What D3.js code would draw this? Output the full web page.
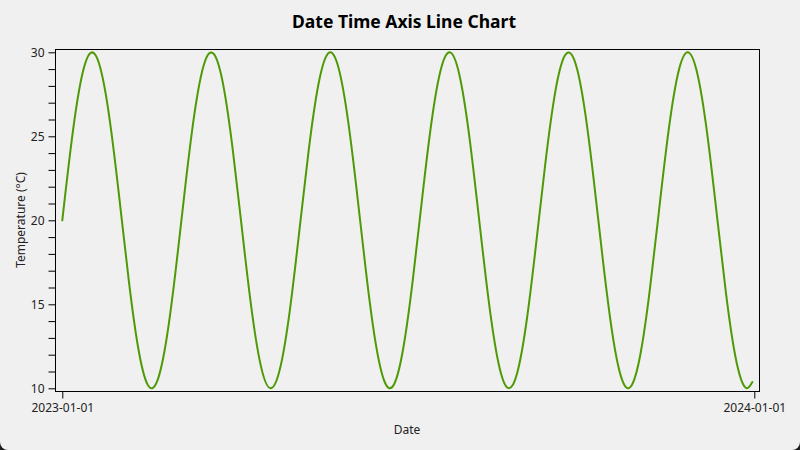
<!DOCTYPE html>
<html>
<head>
<meta charset="utf-8">
<script src="https://cdn.jsdelivr.net/npm/d3@7"></script>
<style>
  html, body { margin: 0; padding: 0; background: #1c1c1c; }
  #wrap { width: 800px; height: 450px; background: #f0f0f0; border-radius: 0 0 8px 8px; overflow: hidden; }
  svg { display: block; font-family: "Noto Sans", "Open Sans", sans-serif; }
</style>
</head>
<body>
<div id="wrap"><svg id="chart" width="800" height="450"></svg></div>
<script>
// Day offsets from 2023-01-01 at which values were read
const dayOffsets = [0,5,10,15,20,25,30,35,40,45,50,55,60,65,70,75,80,85,90,95,
  100,105,110,115,120,125,130,135,140,145,150,155,160,165,170,175,180,185,190,195,
  200,205,210,215,220,225,230,235,240,245,250,255,260,265,270,275,280,285,290,295,
  300,305,310,315,320,325,330,335,340,345,350,355,360,364];
// Temperature (°C)
const temperatures = [20.00,24.79,28.41,29.97,29.09,25.98,21.41,16.49,12.43,10.22,
  10.41,12.95,17.21,22.15,26.57,29.38,29.89,27.99,24.12,19.25,
  14.56,11.20,10.00,11.25,14.63,19.34,24.20,28.04,29.91,29.35,
  26.50,22.07,17.12,12.88,10.39,10.24,12.49,16.58,21.50,26.06,
  29.13,29.97,28.37,24.72,19.91,15.13,11.54,10.02,10.94,14.08,
  18.68,23.59,27.63,29.79,29.56,26.99,22.71,17.76,13.36,10.59,
  10.12,12.07,15.96,20.84,25.51,28.84,30.00,28.71,25.29,20.57,
  15.72,11.91,10.08,10.37];
const xTickLabels = ["2023-01-01", "2024-01-01"];
const yTicks = [10, 15, 20, 25, 30];
const yMinorTicks = [11,12,13,14,16,17,18,19,21,22,23,24,26,27,28,29];

const parse = d3.timeParse("%Y-%m-%d");
const fmt = d3.timeFormat("%Y-%m-%d");
const start = parse(xTickLabels[0]);
const data = dayOffsets.map((d, i) => ({ date: d3.timeDay.offset(start, d), value: temperatures[i] }));

const svg = d3.select("#chart");
const frame = { left: 55, top: 49, right: 759, bottom: 391 };

const x = d3.scaleTime()
  .domain([parse(xTickLabels[0]), parse(xTickLabels[1])])
  .range([62.3, 754.3]);
const y = d3.scaleLinear().domain([10, 30]).range([388.3, 52.3]);

// Title
svg.append("text").attr("x", 404).attr("y", 28).attr("text-anchor", "middle")
  .attr("font-size", 17.5).attr("font-weight", "bold").attr("fill", "#000")
  .text("Date Time Axis Line Chart");

// Plot frame
svg.append("rect").attr("x", frame.left + 0.5).attr("y", frame.top + 0.5)
  .attr("width", frame.right - frame.left).attr("height", frame.bottom - frame.top)
  .attr("fill", "none").attr("stroke", "#000").attr("stroke-width", 1);

// Y axis
const yAxis = d3.axisLeft(y).tickValues(yTicks).tickSize(7).tickPadding(4).tickFormat(d3.format("d"));
const yg = svg.append("g").attr("transform", `translate(${frame.left + 0.5},0)`).call(yAxis);
yg.select(".domain").remove();
yg.selectAll("text").attr("font-size", 12).attr("fill", "#222").attr("font-family", "Noto Sans, sans-serif");
const ym = d3.axisLeft(y).tickValues(yMinorTicks).tickSize(7).tickFormat("");
const ymg = svg.append("g").attr("transform", `translate(${frame.left + 0.5},0)`).call(ym);
ymg.select(".domain").remove();

// X axis
const xAxis = d3.axisBottom(x).tickValues(xTickLabels.map(parse)).tickSize(7).tickPadding(5).tickFormat(fmt);
const xg = svg.append("g").attr("transform", `translate(0,${frame.bottom + 0.5})`).call(xAxis);
xg.select(".domain").remove();
xg.selectAll("text").attr("font-size", 12).attr("fill", "#222").attr("font-family", "Noto Sans, sans-serif");

// Axis titles
svg.append("text").attr("transform", "translate(25,220) rotate(-90)").attr("text-anchor", "middle")
  .attr("font-size", 12).attr("fill", "#222").text("Temperature (°C)");
svg.append("text").attr("x", 407).attr("y", 434).attr("text-anchor", "middle")
  .attr("font-size", 12).attr("fill", "#222").text("Date");

// Line
const line = d3.line().x(d => x(d.date)).y(d => y(d.value)).curve(d3.curveNatural);
svg.append("path").datum(data).attr("d", line)
  .attr("fill", "none").attr("stroke", "#4e9a06").attr("stroke-width", 2)
  .attr("stroke-linejoin", "round").attr("stroke-linecap", "round");
</script>
</body>
</html>
